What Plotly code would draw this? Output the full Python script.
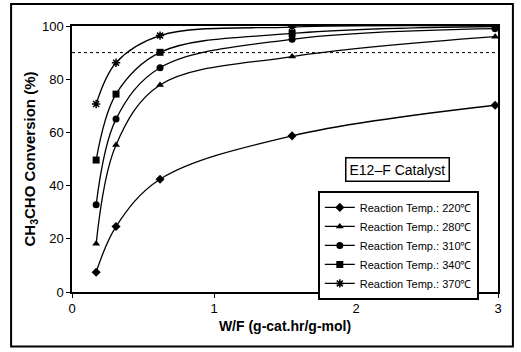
import plotly.graph_objects as go

wf = [0.17, 0.31, 0.62, 1.55, 2.98]
conv_220 = [7.4, 24.6, 42.4, 58.7, 70.2]
conv_280 = [18.1, 55.3, 77.8, 88.5, 96.0]
conv_310 = [32.8, 65.0, 84.3, 95.0, 99.0]
conv_340 = [49.6, 74.4, 90.1, 97.2, 99.8]
conv_370 = [70.7, 86.2, 96.4, 99.6, 100.0]
labels = ["Reaction Temp.: 220\u2103", "Reaction Temp.: 280\u2103", "Reaction Temp.: 310\u2103",
          "Reaction Temp.: 340\u2103", "Reaction Temp.: 370\u2103"]
symbols = ["diamond", "triangle-up", "circle", "square", "asterisk-open"]
target_line = 90

series = [conv_220, conv_280, conv_310, conv_340, conv_370]

FONT = "Liberation Sans, Arial"

fig = go.Figure()
for ys, lab, sym in zip(series, labels, symbols):
    fig.add_trace(go.Scatter(
        x=wf, y=ys, name=lab, mode="lines+markers",
        line=dict(color="black", width=1.3, shape="spline", smoothing=1),
        marker=dict(symbol=sym, size=7, color="black",
                    line=dict(color="black", width=1.5 if sym == "asterisk-open" else 0)),
    ))

fig.add_shape(type="line", x0=0, x1=3, y0=target_line, y1=target_line, xref="x", yref="y",
              line=dict(color="black", width=1, dash="dot"))

# outer frame
fig.add_shape(type="rect", xref="paper", yref="paper",
              x0=-0.143, x1=1.035, y0=-0.205, y1=1.083,
              line=dict(color="black", width=2), layer="below")

fig.add_annotation(text="E12\u2013F Catalyst", xref="paper", yref="paper",
                   x=0.765, y=0.462, xanchor="center", yanchor="middle", showarrow=False,
                   font=dict(family=FONT, size=14, color="black"),
                   bordercolor="black", borderwidth=1.5, borderpad=3, bgcolor="white")

axis_common = dict(showline=True, linecolor="black", linewidth=1.5, mirror=True,
                   ticks="outside", ticklen=4, tickcolor="black", showgrid=False, zeroline=False,
                   automargin=False,
                   tickfont=dict(family=FONT, size=13, color="black"))

fig.update_xaxes(range=[0, 3], tickvals=[0, 1, 2, 3], **axis_common,
                 title=dict(text="<b>W/F (g-cat.hr/g-mol)</b>", standoff=6,
                            font=dict(family=FONT, size=14, color="black")))
fig.update_yaxes(range=[0, 100], tickvals=[0, 20, 40, 60, 80, 100], **axis_common,
                 title=dict(text="<b>CH<sub>3</sub>CHO Conversion (%)</b>", standoff=3,
                            font=dict(family=FONT, size=15, color="black")))

fig.update_layout(
    width=521, height=352,
    margin=dict(l=72, r=23, t=26, b=60),
    paper_bgcolor="white", plot_bgcolor="white",
    legend=dict(x=0.577, y=0.38, xanchor="left", yanchor="top",
                bordercolor="black", borderwidth=2, bgcolor="white",
                font=dict(family=FONT, size=11, color="black"),
                tracegroupgap=0, itemwidth=30),
    showlegend=True,
)

fig.write_html("out.html", post_script="document.body.style.margin='0';",
               config={"displayModeBar": False})
